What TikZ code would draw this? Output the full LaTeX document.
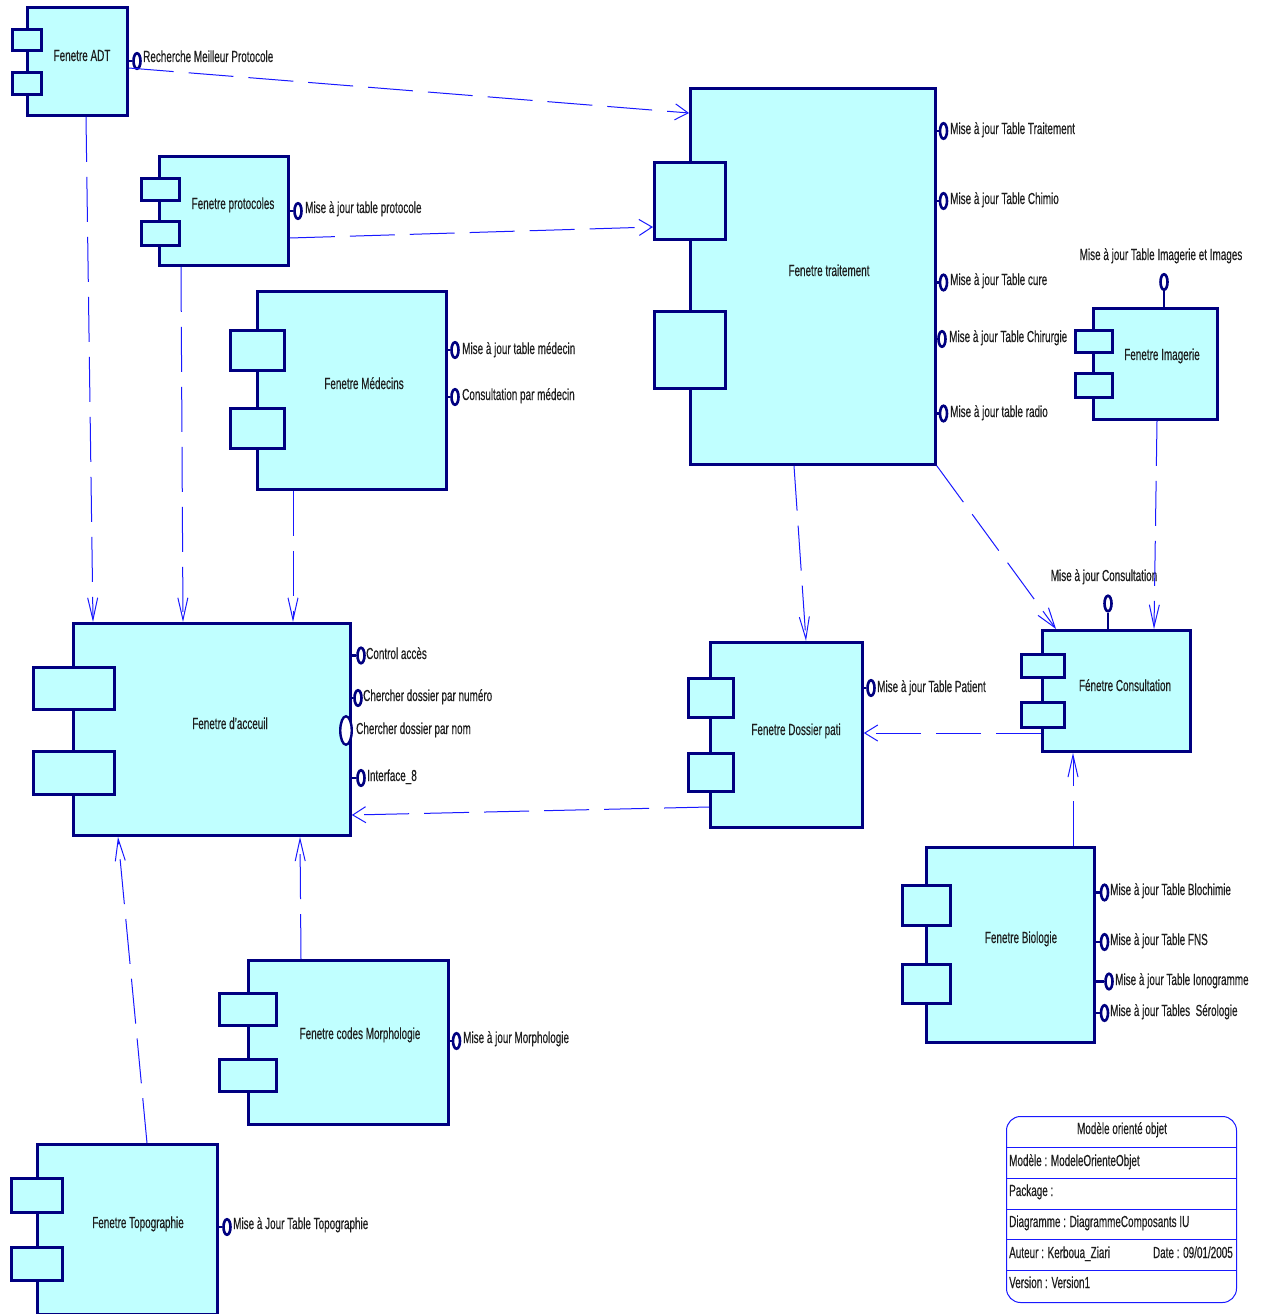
\documentclass[tikz,border=0pt]{standalone}
\usepackage{fontspec}
\setmainfont{Liberation Sans}[FakeStretch=0.62,FakeBold=0.35]
\usetikzlibrary{arrows.meta,shapes.geometric}
\definecolor{navyc}{RGB}{0,0,128}
\definecolor{fillc}{RGB}{192,255,255}
\definecolor{depc}{RGB}{25,25,255}
\definecolor{txtc}{RGB}{30,30,30}
\tikzset{
  box/.style={draw=navyc, fill=fillc, line width=2.8pt, rectangle, inner sep=0pt, anchor=north west},
  lolli/.style={ellipse, draw=navyc, fill=white, line width=2.6pt, inner sep=0pt, minimum width=7pt, minimum height=15.5pt},
  biglolli/.style={ellipse, draw=navyc, fill=white, line width=2.4pt, inner sep=0pt, minimum width=11.5pt, minimum height=28.5pt},
  stub/.style={draw=navyc, line width=2.6pt},
  lab/.style={inner sep=0pt, text=txtc, anchor=base west},
  clab/.style={inner sep=0pt, text=txtc, anchor=base},
  dep/.style={draw=depc, line width=1pt, dash pattern=on 45pt off 15pt},
  depH/.style={dep, -{Straight Barb[length=13pt,width=16pt,line width=1pt]}},
  depV/.style={dep, -{Straight Barb[length=22pt,width=10pt,line width=1pt]}},
  depD/.style={dep, -{Straight Barb[length=20pt,width=13pt,line width=1pt]}},
  tbox/.style={draw=depc, line width=1pt, rounded corners=14pt, inner sep=0pt, anchor=north west, minimum width=230pt, minimum height=186pt},
  tsep/.style={draw=depc, line width=1pt}
}
\begin{document}
\begin{tikzpicture}[x=1pt,y=-1pt,font=\fontsize{16}{19}\selectfont]
\useasboundingbox (0,0) rectangle (1261,1314);
\fill[white] (0,0) rectangle (1261,1314);

% ---------- Fenetre ADT
\node[box, minimum width=100pt, minimum height=108pt] (adt) at (26,6) {};
\node[box, minimum width=29pt, minimum height=21pt] (adt-p1) at (11,28) {};
\node[box, minimum width=29pt, minimum height=22pt] (adt-p2) at (11,71) {};
\node[clab] (adt-l) at (82,61) {Fenetre ADT};
\node[lolli] (adt-i1) at (137,61) {};
\draw[stub] (adt.east |- adt-i1) -- (adt-i1.west);
\node[lab] (adt-i1l) at (143,62) {Recherche Meilleur Protocole};

% ---------- Fenetre protocoles
\node[box, minimum width=129pt, minimum height=109pt] (prot) at (158,155) {};
\node[box, minimum width=38pt, minimum height=22pt] (prot-p1) at (140,177) {};
\node[box, minimum width=38pt, minimum height=24pt] (prot-p2) at (140,220) {};
\node[clab] (prot-l) at (233,209) {Fenetre protocoles};
\node[lolli] (prot-i1) at (298,211) {};
\draw[stub] (prot.east |- prot-i1) -- (prot-i1.west);
\node[lab] (prot-i1l) at (305,213) {Mise à jour table protocole};

% ---------- Fenetre Medecins
\node[box, minimum width=189pt, minimum height=198pt] (med) at (256,290) {};
\node[box, minimum width=54pt, minimum height=40pt] (med-p1) at (229,329) {};
\node[box, minimum width=54pt, minimum height=40pt] (med-p2) at (229,407) {};
\node[clab] (med-l) at (364,389) {Fenetre Médecins};
\node[lolli] (med-i1) at (455,350) {};
\draw[stub] (med.east |- med-i1) -- (med-i1.west);
\node[lab] (med-i1l) at (462,354) {Mise à jour table médecin};
\node[lolli] (med-i2) at (455,397) {};
\draw[stub] (med.east |- med-i2) -- (med-i2.west);
\node[lab] (med-i2l) at (462,400) {Consultation par médecin};

% ---------- Fenetre traitement
\node[box, minimum width=245pt, minimum height=376pt] (trait) at (689,87) {};
\node[box, minimum width=71pt, minimum height=77pt] (trait-p1) at (653,161) {};
\node[box, minimum width=71pt, minimum height=77pt] (trait-p2) at (653,310) {};
\node[clab] (trait-l) at (829,276) {Fenetre traitement};
\node[lolli] (trait-i1) at (943.5,131) {};
\draw[stub] (trait.east |- trait-i1) -- (trait-i1.west);
\node[lab] (trait-i1l) at (950,134) {Mise à jour Table Traitement};
\node[lolli] (trait-i2) at (943.5,201) {};
\draw[stub] (trait.east |- trait-i2) -- (trait-i2.west);
\node[lab] (trait-i2l) at (950,204) {Mise à jour Table Chimio};
\node[lolli] (trait-i3) at (943.5,282.5) {};
\draw[stub] (trait.east |- trait-i3) -- (trait-i3.west);
\node[lab] (trait-i3l) at (950,285) {Mise à jour Table cure};
\node[lolli] (trait-i4) at (942,339) {};
\draw[stub] (trait.east |- trait-i4) -- (trait-i4.west);
\node[lab] (trait-i4l) at (949,342) {Mise à jour Table Chirurgie};
\node[lolli] (trait-i5) at (943.5,413.5) {};
\draw[stub] (trait.east |- trait-i5) -- (trait-i5.west);
\node[lab] (trait-i5l) at (950,417) {Mise à jour table radio};

% ---------- Fenetre Imagerie
\node[box, minimum width=124pt, minimum height=111pt] (imag) at (1092,307) {};
\node[box, minimum width=37pt, minimum height=22pt] (imag-p1) at (1074,329) {};
\node[box, minimum width=37pt, minimum height=24pt] (imag-p2) at (1074,372) {};
\node[clab] (imag-l) at (1162,360) {Fenetre Imagerie};
\node[lolli] (imag-i1) at (1164,282) {};
\draw[stub] (imag-i1.south |- imag.north) -- (imag-i1.south);
\node[clab] (imag-i1l) at (1161,260) {Mise à jour Table Imagerie et Images};

% ---------- Fenetre d'acceuil
\node[box, minimum width=277pt, minimum height=212pt] (acc) at (72,622) {};
\node[box, minimum width=81pt, minimum height=42pt] (acc-p1) at (32,666) {};
\node[box, minimum width=81pt, minimum height=43pt] (acc-p2) at (32,750) {};
\node[clab] (acc-l) at (230,729) {Fenetre d'acceuil};
\node[lolli] (acc-i1) at (361,655.5) {};
\draw[stub] (acc.east |- acc-i1) -- (acc-i1.west);
\node[lab] (acc-i1l) at (366,659) {Control accès};
\node[lolli] (acc-i2) at (358,698) {};
\draw[stub] (acc.east |- acc-i2) -- (acc-i2.west);
\node[lab] (acc-i2l) at (363,701) {Chercher dossier par numéro};
\node[biglolli] (acc-i3) at (346,730.5) {};
\node[lab] (acc-i3l) at (356,734) {Chercher dossier par nom};
\node[lolli] (acc-i4) at (361,778) {};
\draw[stub] (acc.east |- acc-i4) -- (acc-i4.west);
\node[lab] (acc-i4l) at (367,781) {Interface\_8};

% ---------- Fenetre Dossier pati
\node[box, minimum width=152pt, minimum height=185pt] (dos) at (709,641) {};
\node[box, minimum width=45pt, minimum height=39pt] (dos-p1) at (687,677) {};
\node[box, minimum width=45pt, minimum height=38pt] (dos-p2) at (687,752) {};
\node[clab] (dos-l) at (796,735) {Fenetre Dossier pati};
\node[lolli] (dos-i1) at (871,688) {};
\draw[stub] (dos.east |- dos-i1) -- (dos-i1.west);
\node[lab] (dos-i1l) at (877,692) {Mise à jour Table Patient};

% ---------- Fenetre Consultation
\node[box, minimum width=148pt, minimum height=121pt] (cons) at (1041,629) {};
\node[box, minimum width=43pt, minimum height=23pt] (cons-p1) at (1020,653) {};
\node[box, minimum width=43pt, minimum height=25pt] (cons-p2) at (1020,701) {};
\node[clab] (cons-l) at (1125,691) {Fénetre Consultation};
\node[lolli] (cons-i1) at (1108,603.5) {};
\draw[stub] (cons-i1.south |- cons.north) -- (cons-i1.south);
\node[clab] (cons-i1l) at (1104,581) {Mise à jour Consultation};

% ---------- Fenetre Biologie
\node[box, minimum width=168pt, minimum height=195pt] (bio) at (925,846) {};
\node[box, minimum width=48pt, minimum height=40pt] (bio-p1) at (901,884) {};
\node[box, minimum width=48pt, minimum height=39pt] (bio-p2) at (901,963) {};
\node[clab] (bio-l) at (1021,943) {Fenetre Biologie};
\node[lolli] (bio-i1) at (1104.5,892.5) {};
\draw[stub] (bio.east |- bio-i1) -- (bio-i1.west);
\node[lab] (bio-i1l) at (1110,895) {Mise à jour Table Blochimie};
\node[lolli] (bio-i2) at (1104.5,942) {};
\draw[stub] (bio.east |- bio-i2) -- (bio-i2.west);
\node[lab] (bio-i2l) at (1110,945) {Mise à jour Table FNS};
\node[lolli] (bio-i3) at (1109,981.5) {};
\draw[stub] (bio.east |- bio-i3) -- (bio-i3.west);
\node[lab] (bio-i3l) at (1115,985) {Mise à jour Table Ionogramme};
\node[lolli] (bio-i4) at (1104.5,1013) {};
\draw[stub] (bio.east |- bio-i4) -- (bio-i4.west);
\node[lab] (bio-i4l) at (1110,1016) {Mise à jour Tables\ \ Sérologie};

% ---------- Fenetre codes Morphologie
\node[box, minimum width=200pt, minimum height=164pt] (morph) at (247,959) {};
\node[box, minimum width=57pt, minimum height=32pt] (morph-p1) at (218,992) {};
\node[box, minimum width=57pt, minimum height=32pt] (morph-p2) at (218,1058) {};
\node[clab] (morph-l) at (360,1039) {Fenetre codes Morphologie};
\node[lolli] (morph-i1) at (456.5,1041) {};
\draw[stub] (morph.east |- morph-i1) -- (morph-i1.west);
\node[lab] (morph-i1l) at (463,1043) {Mise à jour Morphologie};

% ---------- Fenetre Topographie
\node[box, minimum width=180pt, minimum height=170pt] (topo) at (36,1143) {};
\node[box, minimum width=51pt, minimum height=34pt] (topo-p1) at (10,1177) {};
\node[box, minimum width=51pt, minimum height=33pt] (topo-p2) at (10,1246) {};
\node[clab] (topo-l) at (138,1228) {Fenetre Topographie};
\node[lolli] (topo-i1) at (227,1227) {};
\draw[stub] (topo.east |- topo-i1) -- (topo-i1.west);
\node[lab] (topo-i1l) at (233,1229) {Mise à Jour Table Topographie};

% ---------- dependencies
\draw[depH] (adt.east |- 0,68) -- (trait.west |- 0,113);
\draw[depH] (prot.east |- 0,238) -- (trait-p1.west |- 0,227);
\draw[depV] (86,0 |- adt.south) -- (93,0 |- acc.north);
\draw[depV] (181,0 |- prot.south) -- (183,0 |- acc.north);
\draw[depV] (293,0 |- med.south) -- (293,0 |- acc.north);
\draw[depV] (794,0 |- trait.south) -- (806,0 |- dos.north);
\draw[depD] (trait.south east) -- (1056,0 |- cons.north);
\draw[depV] (1157,0 |- imag.south) -- (1154,0 |- cons.north);
\draw[depH] (cons.west |- 0,733) -- (dos.east |- 0,733);
\draw[depH] (dos.west |- 0,807) -- (acc.east |- 0,815);
\draw[depV] (1073,0 |- bio.north) -- (1073,0 |- cons.south);
\draw[depV] (301,0 |- morph.north) -- (300,0 |- acc.south);
\draw[depV] (147,0 |- topo.north) -- (118,0 |- acc.south);

% ---------- title block
\node[tbox] (tb) at (1006,1116) {};
\draw[tsep] (tb.west |- 0,1147) -- (tb.east |- 0,1147);
\draw[tsep] (tb.west |- 0,1178) -- (tb.east |- 0,1178);
\draw[tsep] (tb.west |- 0,1209) -- (tb.east |- 0,1209);
\draw[tsep] (tb.west |- 0,1239) -- (tb.east |- 0,1239);
\draw[tsep] (tb.west |- 0,1270) -- (tb.east |- 0,1270);
\node[clab] (tb-t) at (1122,1134) {Modèle orienté objet};
\node[lab] (tb-r1) at (1009,1166) {Modèle : ModeleOrienteObjet};
\node[lab] (tb-r2) at (1009,1196) {Package :};
\node[lab] (tb-r3) at (1009,1227) {Diagramme : DiagrammeComposants IU};
\node[lab] (tb-r4) at (1009,1258) {Auteur : Kerboua\_Ziari};
\node[inner sep=0pt, text=txtc, anchor=base east] (tb-r4b) at (1233,1258) {Date : 09/01/2005};
\node[lab] (tb-r5) at (1009,1288) {Version : Version1};
\end{tikzpicture}
\end{document}
